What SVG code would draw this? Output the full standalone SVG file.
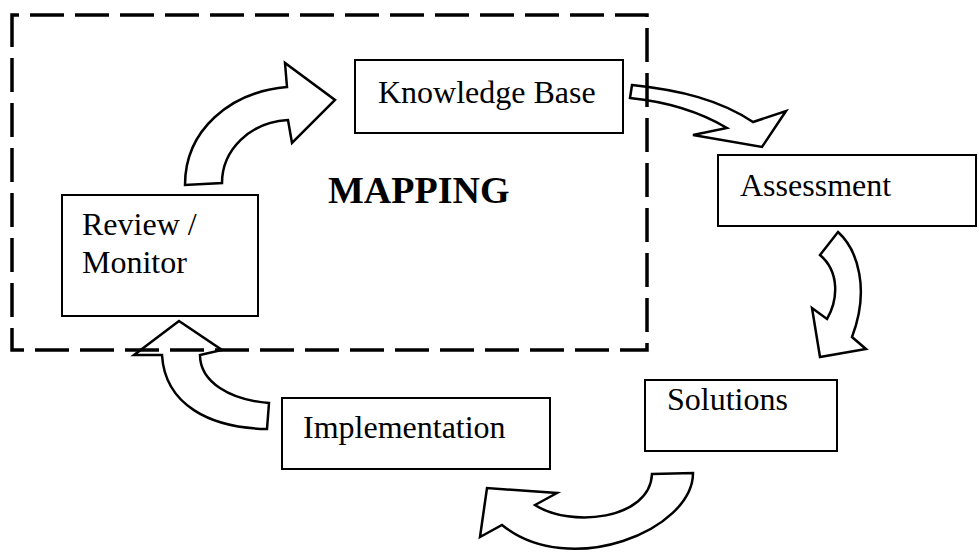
<svg xmlns="http://www.w3.org/2000/svg" width="979" height="553" viewBox="0 0 979 553">
<style>
.box{fill:#fff;stroke:#000;stroke-width:2}
.lbl{font-family:"Liberation Serif","Times New Roman",serif;font-size:32px;fill:#000}
.arr{fill:#fff;stroke:#000;stroke-width:2.5;stroke-linejoin:miter}
.dash{fill:none;stroke:#000;stroke-width:3.5;stroke-dasharray:34 11}
</style>
<rect width="979" height="553" fill="#fff"/>
<g id="connectors">
<path class="arr" d="M185,185 C185,130 230,92 287,87 L285,63 L335,100 L292,143 L288,120 C250,122 222,150 222,183 Z"/>
<path class="arr" d="M632,85 C680,90 720,100 753,122 L786,111 L762,147 L693,135 L727,128 C700,112 670,102 630,98 Z"/>
<path class="arr" d="M838,232 C858,250 870,290 852,337 L866,349 L820,357 L812,308 L827,319 C838,300 840,272 820,255 Z"/>
<path class="arr" d="M652,474 L693,473 C693,530 570,580 502,525 L480,537 L487,488 L557,493 L535,505 C570,528 650,520 652,474 Z"/>
<path class="arr" d="M179,321 L134,355 L162,355 C165,405 210,428 267,429 L269,403 C230,400 200,382 200,355 L222,350 Z"/>
</g>
<g id="mapping">
<path class="dash" stroke-dashoffset="27" d="M12,15 H647 V350 H12 Z"/>
<text x="328" y="203" font-family="Liberation Serif, Times New Roman, serif" font-size="38" font-weight="bold">MAPPING</text>
</g>
<g id="knowledge-base">
<rect class="box" x="355" y="60" width="268" height="73"/>
<text class="lbl" font-family="Liberation Serif, serif" x="378" y="103">Knowledge Base</text>
</g>
<g id="assessment">
<rect class="box" x="718" y="155" width="258" height="71"/>
<text class="lbl" font-family="Liberation Serif, serif" x="740" y="196">Assessment</text>
</g>
<g id="solutions">
<rect class="box" x="645" y="380" width="192" height="71"/>
<text class="lbl" font-family="Liberation Serif, serif" x="667" y="410">Solutions</text>
</g>
<g id="implementation">
<rect class="box" x="282" y="398" width="268" height="71"/>
<text class="lbl" font-family="Liberation Serif, serif" x="303" y="438">Implementation</text>
</g>
<g id="review-monitor">
<rect class="box" x="62" y="195" width="196" height="121"/>
<text class="lbl" font-family="Liberation Serif, serif" x="82" y="235">Review /</text>
<text class="lbl" font-family="Liberation Serif, serif" x="82" y="273">Monitor</text>
</g>
</svg>
